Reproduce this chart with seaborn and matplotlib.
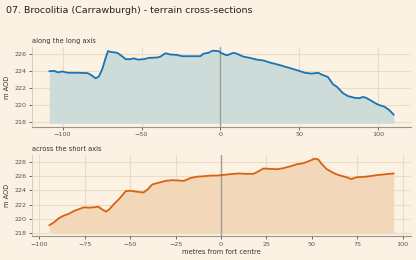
import numpy as np
import pandas as pd
import seaborn as sns
import matplotlib.pyplot as plt

# profile along the long axis (metres from centre, m AOD)
long_x = [-108.4, -105.3, -103, -100, -96.8, -90.5, -84, -82, -79, -77, -74.8, -72.7, -71.2,
          -69.5, -65.3, -62, -60, -57, -54.8, -52.3, -48.5, -45.4, -40, -38, -34.9, -31.7,
          -27.5, -24.4, -21.2, -17, -12.8, -10.7, -7.6, -5, -1.3, 0.8, 4, 8.2, 10.3, 14.5,
          18.7, 22.9, 27.1, 31.3, 37.6, 43.9, 50.2, 53.4, 57.6, 61.8, 63.9, 68, 71.2, 73.7,
          77.5, 80.7, 84.9, 88, 90.1, 92.2, 96.4, 99.6, 103.8, 106.9, 109.7]
long_z = [223.93, 223.97, 223.8, 223.9, 223.75, 223.75, 223.7, 223.5, 223.1, 223.3, 224.2, 225.5, 226.3,
          226.2, 226.1, 225.65, 225.35, 225.35, 225.45, 225.3, 225.35, 225.5, 225.55, 225.65, 226.05, 225.9,
          225.85, 225.7, 225.7, 225.7, 225.7, 226.0, 226.1, 226.35, 226.3, 226.05, 225.8, 226.1, 226.0, 225.65,
          225.5, 225.3, 225.2, 224.95, 224.65, 224.3, 223.95, 223.75, 223.65, 223.75, 223.55, 223.25, 222.4, 222.1,
          221.35, 221.0, 220.8, 220.75, 220.9, 220.8, 220.35, 220.0, 219.75, 219.35, 218.8]

# profile across the short axis
short_x = [-94.5, -91.8, -89, -86.3, -83.6, -80.8, -78.1, -75.4, -72.6, -69.9, -67.5, -65.1, -63.3,
           -61.5, -58.8, -56, -52.4, -49.6, -46, -42.7, -40.5, -37.8, -34.1, -30.5, -26.8, -23.2,
           -20.4, -16.8, -13.1, -9.5, -5.8, -2.2, 1.5, 5.1, 9.7, 13.3, 17.9, 20.6, 23.4, 27, 30.7,
           34.3, 38, 41.6, 45.3, 48.9, 51.6, 53.5, 55.3, 58, 61.7, 64.4, 67.2, 69.9, 71.7, 74.5,
           79.9, 85.4, 90.9, 95.1]
short_z = [219.05, 219.5, 220.1, 220.45, 220.7, 221.1, 221.35, 221.6, 221.55, 221.6, 221.7, 221.25, 221.0,
           221.3, 222.1, 222.8, 223.9, 223.95, 223.8, 223.7, 224.1, 224.85, 225.1, 225.35, 225.45, 225.4,
           225.35, 225.75, 225.95, 226.0, 226.1, 226.1, 226.2, 226.3, 226.4, 226.35, 226.35, 226.7, 227.1, 227.05, 227.0,
           227.15, 227.4, 227.7, 227.85, 228.2, 228.5, 228.4, 227.8, 227.05, 226.5, 226.2, 226.0, 225.8, 225.6, 225.85,
           225.95, 226.15, 226.3, 226.4]

bg = "#fbf2e4"
sns.set_style("whitegrid", {
    "axes.facecolor": bg, "figure.facecolor": bg,
    "grid.color": "#ebdcc2", "axes.edgecolor": "#9a958c",
    "xtick.bottom": True, "ytick.left": True,
    "xtick.color": "#555555", "ytick.color": "#555555",
})
plt.rcParams["font.family"] = ["DejaVu Sans"]

fig = plt.figure(figsize=(4.16, 2.6), dpi=100)
ax1 = fig.add_axes([0.077, 0.512, 0.911, 0.307])
ax2 = fig.add_axes([0.077, 0.092, 0.911, 0.312])

panels = [
    (ax1, long_x, long_z, "#1a73b5", "#cddbd9", "along the long axis"),
    (ax2, short_x, short_z, "#d9620f", "#f2d7b8", "across the short axis"),
]
for ax, xs, zs, lc, fc, name in panels:
    df = pd.DataFrame({"x": xs, "z": zs})
    base = min(zs) - 1
    ax.fill_between(df.x, base, df.z, color=fc, lw=0)
    sns.lineplot(data=df, x="x", y="z", ax=ax, color=lc, lw=1.3)
    ax.axvline(0, color="#a39d94", lw=1, zorder=1)
    ax.set_title(name, loc="left", fontsize=4.8, color="#333333", pad=3)
    ax.set_ylabel("m AOD", fontsize=4.8, color="#333333", labelpad=3)
    ax.set_xlabel("")
    ax.tick_params(labelsize=4.6, length=2.5, width=0.6, pad=1.5)
    ax.grid(True, lw=0.8)
    ax.margins(x=0.05, y=0.05)
    sns.despine(ax=ax)
    ax.spines["bottom"].set_linewidth(0.8)
    ax.spines["left"].set_linewidth(0.6)
    ax.spines["left"].set_color("#cfc6b6")

ax1.set_yticks([218, 220, 222, 224, 226])
ax1.set_xticks([-100, -50, 0, 50, 100])
ax2.set_yticks([218, 220, 222, 224, 226, 228])
ax2.set_xticks([-100, -75, -50, -25, 0, 25, 50, 75, 100])
ax2.set_xlabel("metres from fort centre", fontsize=4.8, color="#333333", labelpad=1.5)

fig.text(0.014, 0.96, "07. Brocolitia (Carrawburgh) - terrain cross-sections",
         fontsize=6.8, color="#222222", va="center")

fig.savefig("out.png", dpi=100, facecolor=bg)
